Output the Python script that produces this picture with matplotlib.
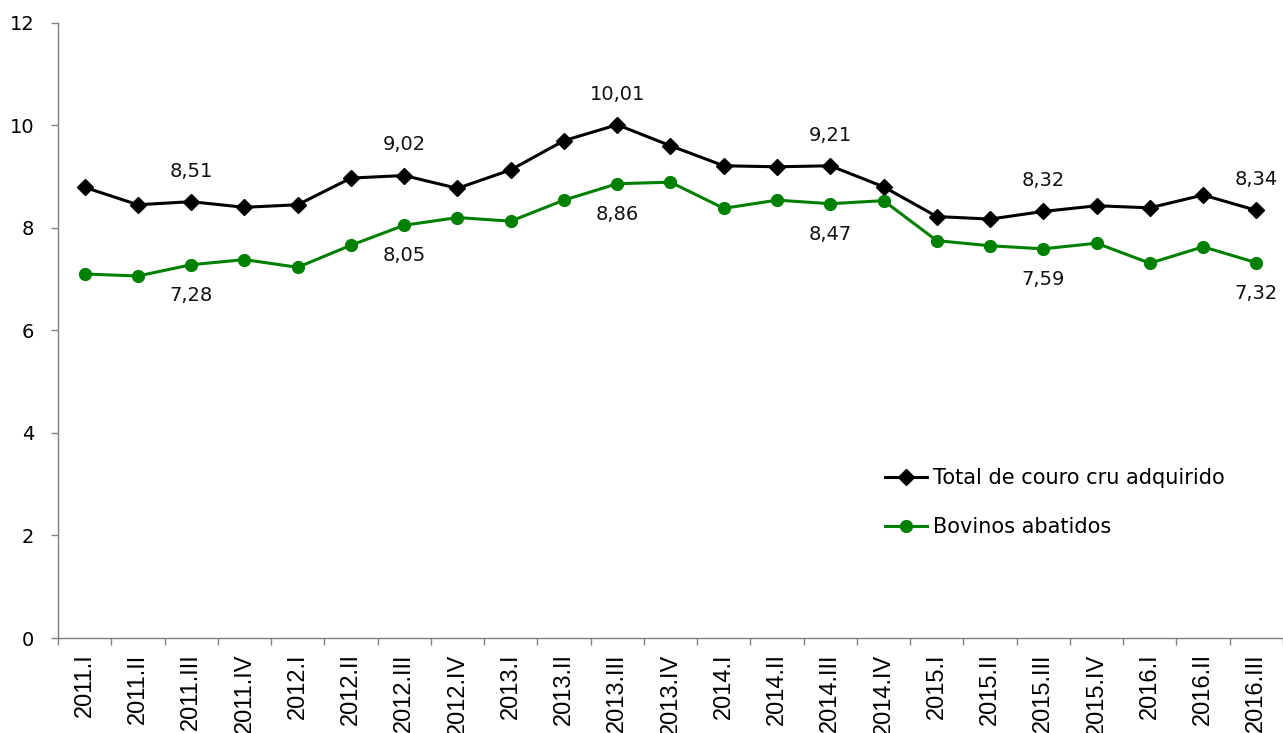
import matplotlib
matplotlib.use("Agg")
import matplotlib.pyplot as plt
import numpy as np

QUARTERS = [
    "2011.I", "2011.II", "2011.III", "2011.IV",
    "2012.I", "2012.II", "2012.III", "2012.IV",
    "2013.I", "2013.II", "2013.III", "2013.IV",
    "2014.I", "2014.II", "2014.III", "2014.IV",
    "2015.I", "2015.II", "2015.III", "2015.IV",
    "2016.I", "2016.II", "2016.III",
]

TOTAL_COURO = [
    8.79, 8.45, 8.51, 8.40,
    8.45, 8.97, 9.02, 8.77,
    9.13, 9.70, 10.01, 9.60,
    9.21, 9.19, 9.21, 8.80,
    8.22, 8.17, 8.32, 8.43,
    8.39, 8.64, 8.34,
]

BOVINOS = [
    7.10, 7.06, 7.28, 7.38,
    7.23, 7.66, 8.05, 8.20,
    8.13, 8.54, 8.86, 8.89,
    8.38, 8.54, 8.47, 8.53,
    7.75, 7.65, 7.59, 7.70,
    7.31, 7.63, 7.32,
]

LABELLED = [2, 6, 10, 14, 18, 22]
Y_TICKS = [0, 2, 4, 6, 8, 10, 12]

plt.rcParams["font.family"] = ["DejaVu Sans"]

fig = plt.figure(figsize=(12.83, 7.33), dpi=100)
ax = fig.add_axes([0.0452, 0.1296, 0.9548, 0.8394])

x = np.arange(len(QUARTERS))
ax.plot(x, TOTAL_COURO, color="black", linewidth=2.2, marker="D",
        markersize=8, label="Total de couro cru adquirido", zorder=3)
ax.plot(x, BOVINOS, color="#008000", linewidth=2.2, marker="o",
        markersize=8.5, label="Bovinos abatidos", zorder=3)


def fmt(v):
    return "{:.2f}".format(v).replace(".", ",")


for i in LABELLED:
    ax.annotate(fmt(TOTAL_COURO[i]), (x[i], TOTAL_COURO[i]), xytext=(0, 22),
                textcoords="offset points", ha="center", va="center",
                fontsize=14, color="#111111")
    ax.annotate(fmt(BOVINOS[i]), (x[i], BOVINOS[i]), xytext=(0, -22),
                textcoords="offset points", ha="center", va="center",
                fontsize=14, color="#111111")

ax.set_xlim(-0.5, len(QUARTERS) - 0.5)
ax.set_ylim(0, 12)
ax.set_yticks(Y_TICKS)
ax.set_yticklabels([str(t) for t in Y_TICKS], fontsize=14)
ax.set_xticks(x)
ax.set_xticklabels(QUARTERS, rotation=90, fontsize=17, family="Liberation Sans")
ax.set_xticks(np.arange(len(QUARTERS) + 1) - 0.5, minor=True)
ax.tick_params(axis="x", which="major", length=0, pad=11)
ax.tick_params(axis="x", which="minor", length=5, color="#808080", width=1)
ax.tick_params(axis="y", length=5, color="#808080", width=1, pad=12)

for side in ["top", "right"]:
    ax.spines[side].set_visible(False)
for side in ["left", "bottom"]:
    ax.spines[side].set_color("#808080")
    ax.spines[side].set_linewidth(1)

ax.legend(loc="center left", bbox_to_anchor=(0.675, 0.22), frameon=False,
          fontsize=15, handlelength=2.0, handletextpad=0.3,
          labelspacing=1.4, borderpad=0, borderaxespad=0)

fig.savefig("out.png", dpi=100)
